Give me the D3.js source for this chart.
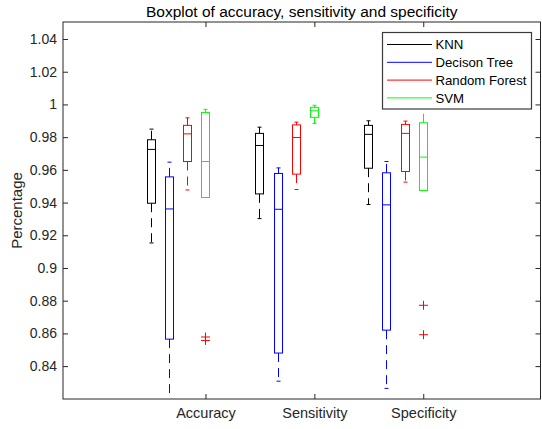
<!DOCTYPE html>
<html><head><meta charset="utf-8">
<script src="https://cdn.jsdelivr.net/npm/d3@7/dist/d3.min.js"></script>
<style>
html,body{margin:0;padding:0;background:#fff;}
svg{display:block;font-family:"Liberation Sans",Arial,sans-serif;}
</style></head>
<body>
<svg id="chart" width="542" height="429"></svg>
<script>
// ---- data ----
const groups = ["Accuracy", "Sensitivity", "Specificity"];
const methods = ["KNN", "Decison Tree", "Random Forest", "SVM"];
// each entry: [lower whisker, Q1, median, Q3, upper whisker] per group
const knnStats = [[0.9153,0.9396,0.9725,0.9784,0.9849],[0.9302,0.9453,0.9749,0.9823,0.9861],[0.9388,0.9610,0.9817,0.9872,0.9900]];
const dtStats  = [[0.8000,0.8565,0.9361,0.9557,0.9647],[0.8308,0.8480,0.9359,0.9578,0.9612],[0.8264,0.8620,0.9386,0.9582,0.9651]];
const rfStats  = [[0.9477,0.9651,0.9820,0.9872,0.9918],[0.9480,0.9574,0.9798,0.9875,0.9892],[0.9525,0.9590,0.9823,0.9878,0.9898]];
const svmStats = [[0.9431,0.9431,0.9651,0.9951,0.9970],[0.9884,0.9921,0.9961,0.9982,0.9995],[0.9474,0.9474,0.9678,0.9888,0.9995]];
const outlierValues = [[0.8578,0.8557],[],[0.8772,0.8592]];
const yTicks = [0.84,0.86,0.88,0.90,0.92,0.94,0.96,0.98,1.00,1.02,1.04];
const titleText = "Boxplot of accuracy, sensitivity and specificity";
const yLabel = "Percentage";

// ---- styles ----
const colors = ["#000000", "#0000ff", "#ff0000", "#00ff00"];
const outlierColor = "#ff0000";
const axisColor = "#262626";
const allStats = [knnStats, dtStats, rfStats, svmStats];

const svg = d3.select("#chart");
const L = 63, R = 540.5, T = 22, B = 399;

const x = d3.scaleLinear().domain([-4.85, 21.46]).range([L, R]);
const y = d3.scaleLinear().domain([0.8199, 1.0504]).range([B, T]);
const groupStep = 6;
const pos = (g, k) => g * groupStep + k;
const halfBox = 0.22, halfCap = 0.11;
const snap = v => Math.round(v - 0.5) + 0.5;

svg.append("defs").append("clipPath").attr("id","clip")
  .append("rect").attr("x", L).attr("y", T).attr("width", R - L).attr("height", B - T);

const plot = svg.append("g").attr("clip-path", "url(#clip)");

allStats.forEach((stats, k) => {
  stats.forEach((s, g) => {
    const cx = snap(x(pos(g, k)));
    const hw = Math.round(x(pos(g, k) + halfBox) - x(pos(g, k)));
    const cw = Math.round(x(pos(g, k) + halfCap) - x(pos(g, k)));
    const [lo, q1, med, q3, hi] = s;
    const gg = plot.append("g").attr("stroke", colors[k]).attr("fill", "none").attr("stroke-width", 1);
    if (hi > q3) {
      gg.append("line").attr("x1", cx).attr("x2", cx).attr("y1", y(q3)).attr("y2", y(hi)).attr("stroke-dasharray", "9,6");
      gg.append("line").attr("x1", cx - cw).attr("x2", cx + cw).attr("y1", y(hi)).attr("y2", y(hi));
    }
    if (lo < q1) {
      gg.append("line").attr("x1", cx).attr("x2", cx).attr("y1", y(q1)).attr("y2", y(lo)).attr("stroke-dasharray", "9,6");
      gg.append("line").attr("x1", cx - cw).attr("x2", cx + cw).attr("y1", y(lo)).attr("y2", y(lo));
    }
    gg.append("rect").attr("x", cx - hw).attr("width", 2 * hw)
      .attr("y", y(q3)).attr("height", y(q1) - y(q3));
    gg.append("line").attr("x1", cx - hw).attr("x2", cx + hw).attr("y1", y(med)).attr("y2", y(med));
  });
});

// outliers (red +) drawn at the last box position of each group
outlierValues.forEach((vals, g) => {
  const cx = snap(x(pos(g, 3)));
  vals.forEach(v => {
    const cy = y(v);
    plot.append("path").attr("d", `M${cx-4.5},${cy}H${cx+4.5}M${cx},${cy-4.5}V${cy+4.5}`)
      .attr("stroke", outlierColor).attr("stroke-width", 1).attr("fill", "none");
  });
});

// ---- axes ----
const fmt = d => String(+d.toFixed(2));
const groupTicks = groups.map((_, g) => pos(g, 3));

const ax = svg.append("g").attr("class", "axes");
ax.append("g").attr("class", "yl").attr("transform", `translate(${L},0)`)
  .call(d3.axisLeft(y).tickValues(yTicks).tickFormat(fmt).tickSize(-5).tickSizeOuter(0).tickPadding(6));
ax.append("g").attr("transform", `translate(${R},0)`)
  .call(d3.axisRight(y).tickValues(yTicks).tickFormat("").tickSize(-5).tickSizeOuter(0));
ax.append("g").attr("class", "xb").attr("transform", `translate(0,${B})`)
  .call(d3.axisBottom(x).tickValues(groupTicks).tickFormat((d, i) => groups[i]).tickSize(-5).tickSizeOuter(0).tickPadding(9));
ax.append("g").attr("transform", `translate(0,${T})`)
  .call(d3.axisTop(x).tickValues(groupTicks).tickFormat("").tickSize(-5).tickSizeOuter(0));

ax.selectAll(".domain").remove();
ax.selectAll(".tick line").attr("stroke", axisColor);
ax.selectAll(".tick text").attr("fill", axisColor)
  .style("font-family", '"Liberation Sans", Arial, sans-serif');
ax.selectAll(".yl .tick text").style("font-size", "14px");
ax.selectAll(".xb .tick text").style("font-size", "14.5px");

// frame
svg.append("rect").attr("x", L).attr("y", T).attr("width", R - L).attr("height", B - T)
  .attr("fill", "none").attr("stroke", axisColor).attr("stroke-width", 1);

// title & label
svg.append("text").attr("x", (L + R) / 2).attr("y", 17).attr("text-anchor", "middle")
  .attr("fill", "#000").style("font-size", "15.5px").text(titleText);
svg.append("text").attr("transform", `translate(22,${(T + B) / 2}) rotate(-90)`)
  .attr("text-anchor", "middle").attr("fill", axisColor).style("font-size", "15px").text(yLabel);

// ---- legend ----
const lg = svg.append("g");
const lgX = 382.5, lgY = 32.5, lgW = 149, lgH = 76.5;
lg.append("rect").attr("x", lgX).attr("y", lgY).attr("width", lgW).attr("height", lgH)
  .attr("fill", "#fff").attr("stroke", "#3a3a3a").attr("stroke-width", 1.2);
methods.forEach((m, i) => {
  const ry = 44.5 + i * 17.8;
  lg.append("line").attr("x1", 387).attr("x2", 432).attr("y1", ry).attr("y2", ry)
    .attr("stroke", colors[i]).attr("stroke-width", 1);
  lg.append("text").attr("x", 435.5).attr("y", ry + 4.7).attr("fill", "#000")
    .style("font-size", "13.2px").text(m);
});
</script>
</body></html>
